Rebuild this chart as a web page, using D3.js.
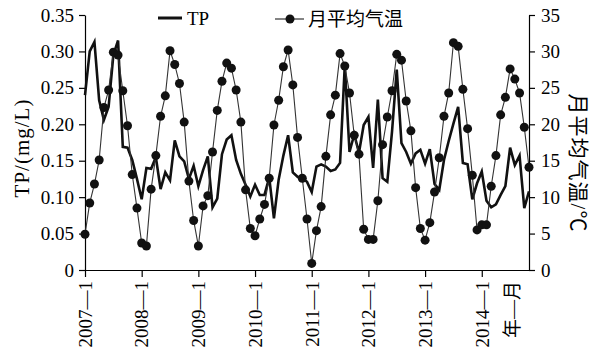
<!DOCTYPE html>
<html lang="zh">
<head>
<meta charset="utf-8">
<script src="https://cdn.jsdelivr.net/npm/d3@7"></script>
<style type="text/css">
    body { margin: 0; background: #fff; }
    svg text { font-family: "Liberation Serif", "Noto Sans CJK SC", serif; }
</style>
</head>
<body>
<script>
    // monthly data, 2007-1 .. 2014-11
    let tp = [0.240, 0.300, 0.313, 0.233, 0.206, 0.224, 0.295, 0.315, 0.169, 0.168, 0.151, 0.125,
              0.097, 0.140, 0.139, 0.155, 0.111, 0.134, 0.123, 0.178, 0.156, 0.149, 0.125, 0.143,
              0.115, 0.137, 0.156, 0.086, 0.098, 0.159, 0.179, 0.185, 0.151, 0.132, 0.117, 0.101,
              0.117, 0.103, 0.103, 0.127, 0.071, 0.124, 0.157, 0.185, 0.134, 0.128, 0.126, 0.121,
              0.107, 0.142, 0.145, 0.142, 0.136, 0.138, 0.147, 0.281, 0.162, 0.186, 0.161, 0.199,
              0.210, 0.140, 0.234, 0.126, 0.121, 0.190, 0.275, 0.174, 0.162, 0.146, 0.160, 0.165,
              0.146, 0.166, 0.118, 0.110, 0.151, 0.177, 0.201, 0.224, 0.147, 0.145, 0.097, 0.119,
              0.135, 0.095, 0.086, 0.090, 0.103, 0.115, 0.168, 0.144, 0.157, 0.085, 0.108];
    let temp = [4.9, 9.2, 11.8, 15.1, 22.3, 24.7, 29.9, 29.5, 24.6, 19.8, 13.1, 8.5,
                3.7, 3.3, 11.1, 15.7, 21.1, 23.9, 30.1, 28.2, 25.6, 20.3, 12.2, 6.8,
                3.3, 8.8, 10.2, 16.2, 21.9, 25.9, 28.4, 27.7, 24.7, 20.3, 11.0, 5.7,
                4.7, 7.0, 9.0, 12.6, 19.9, 23.3, 27.9, 30.2, 25.4, 18.2, 12.6, 7.0,
                0.9, 5.4, 8.7, 15.6, 21.3, 24.0, 29.7, 28.0, 24.3, 18.5, 15.9, 5.6,
                4.2, 4.2, 9.5, 17.2, 21.0, 24.6, 29.6, 28.8, 23.2, 19.1, 11.3, 5.7,
                4.1, 6.5, 10.7, 15.4, 21.1, 24.3, 31.2, 30.7, 24.8, 19.4, 13.0, 5.5,
                6.2, 6.2, 11.5, 15.7, 21.3, 23.7, 27.6, 26.2, 24.3, 19.6, 14.1];
    let yearTicks = [0, 12, 24, 36, 48, 60, 72, 84];
    let yearLabels = ["2007—1", "2008—1", "2009—1", "2010—1", "2011—1", "2012—1", "2013—1", "2014—1"];
    let tpTicks = [0, 0.05, 0.10, 0.15, 0.20, 0.25, 0.30, 0.35];
    let tempTicks = [0, 5, 10, 15, 20, 25, 30, 35];

    let w = 591;
    let h = 350;
    let padL = 85, padR = 529, padT = 15, padB = 270;
    let fs = "19px";

    let svg = d3.select("body")
                .append("svg")
                .attr("width", w)
                .attr("height", h);

    let xScale = d3.scaleLinear().domain([0, tp.length - 1]).range([padL, padR]);
    let yTP = d3.scaleLinear().domain([0, 0.35]).range([padB, padT]);
    let yT = d3.scaleLinear().domain([0, 35]).range([padB, padT]);

    // axes
    let xAxis = d3.axisBottom(xScale)
                  .tickValues(yearTicks)
                  .tickFormat((d, i) => yearLabels[i])
                  .tickSize(7)
                  .tickSizeOuter(0);
    let gx = svg.append("g")
                .attr("transform", "translate(0," + padB + ")")
                .call(xAxis);
    gx.selectAll("text")
      .attr("transform", "rotate(-90)")
      .attr("x", -11)
      .attr("y", 0)
      .attr("dy", "0.33em")
      .style("text-anchor", "end");

    svg.append("g")
       .attr("transform", "translate(" + padL + ",0)")
       .call(d3.axisLeft(yTP).tickValues(tpTicks)
               .tickFormat((d) => d === 0 ? "0" : d3.format(".2f")(d))
               .tickSize(6).tickSizeOuter(0).tickPadding(5));

    svg.append("g")
       .attr("transform", "translate(" + padR + ",0)")
       .call(d3.axisRight(yT).tickValues(tempTicks)
               .tickSize(6).tickSizeOuter(0).tickPadding(6));

    svg.selectAll(".tick text")
       .attr("font-size", fs)
       .attr("font-family", "Liberation Serif")
       .attr("fill", "#000");
    svg.selectAll(".domain, .tick line")
       .attr("stroke", "#000")
       .attr("stroke-width", 1.2);

    // TP line
    let tpLine = d3.line()
                   .x((d, i) => xScale(i))
                   .y((d) => yTP(d));
    svg.append("path")
       .datum(tp)
       .attr("d", tpLine)
       .attr("fill", "none")
       .attr("stroke", "#111")
       .attr("stroke-width", 2.6)
       .attr("stroke-linejoin", "miter");

    // temperature line + dots
    let tLine = d3.line()
                  .x((d, i) => xScale(i))
                  .y((d) => yT(d));
    svg.append("path")
       .datum(temp)
       .attr("d", tLine)
       .attr("fill", "none")
       .attr("stroke", "#333")
       .attr("stroke-width", 1.1);
    svg.selectAll("circle.pt")
       .data(temp)
       .enter()
       .append("circle")
       .attr("class", "pt")
       .attr("cx", (d, i) => xScale(i))
       .attr("cy", (d) => yT(d))
       .attr("r", 4.5)
       .attr("fill", "#111");

    // legend
    svg.append("line")
       .attr("x1", 158).attr("x2", 182)
       .attr("y1", 18).attr("y2", 18)
       .attr("stroke", "#111").attr("stroke-width", 3);
    svg.append("text")
       .attr("x", 187).attr("y", 25)
       .attr("font-size", fs)
       .text("TP");
    svg.append("line")
       .attr("x1", 275).attr("x2", 304)
       .attr("y1", 19).attr("y2", 19)
       .attr("stroke", "#333").attr("stroke-width", 1.2);
    svg.append("circle")
       .attr("cx", 290).attr("cy", 19).attr("r", 4.5)
       .attr("fill", "#111");
    svg.append("text")
       .attr("x", 308).attr("y", 26)
       .attr("font-size", fs)
       .text("月平均气温");

    // axis titles
    svg.append("text")
       .attr("x", 22)
       .attr("y", 148)
       .attr("text-anchor", "middle")
       .attr("font-size", "21px")
       .attr("letter-spacing", "1px")
       .attr("transform", "rotate(-90, 22, 148)")
       .attr("dy", "0.33em")
       .text("TP/(mg/L)");

    svg.append("text")
       .attr("x", 578)
       .attr("y", 163)
       .attr("text-anchor", "middle")
       .attr("font-size", "21px")
       .attr("letter-spacing", "1px")
       .attr("transform", "rotate(90, 578, 163)")
       .attr("dy", "0.33em")
       .text("月平均气温/℃");

    svg.append("text")
       .attr("x", 0)
       .attr("y", 0)
       .attr("text-anchor", "end")
       .attr("font-size", fs)
       .attr("transform", "translate(" + (xScale(90.5)) + "," + (padB + 11) + ") rotate(-90)")
       .attr("dy", "0.33em")
       .text("年—月");
</script>
</body>
</html>
